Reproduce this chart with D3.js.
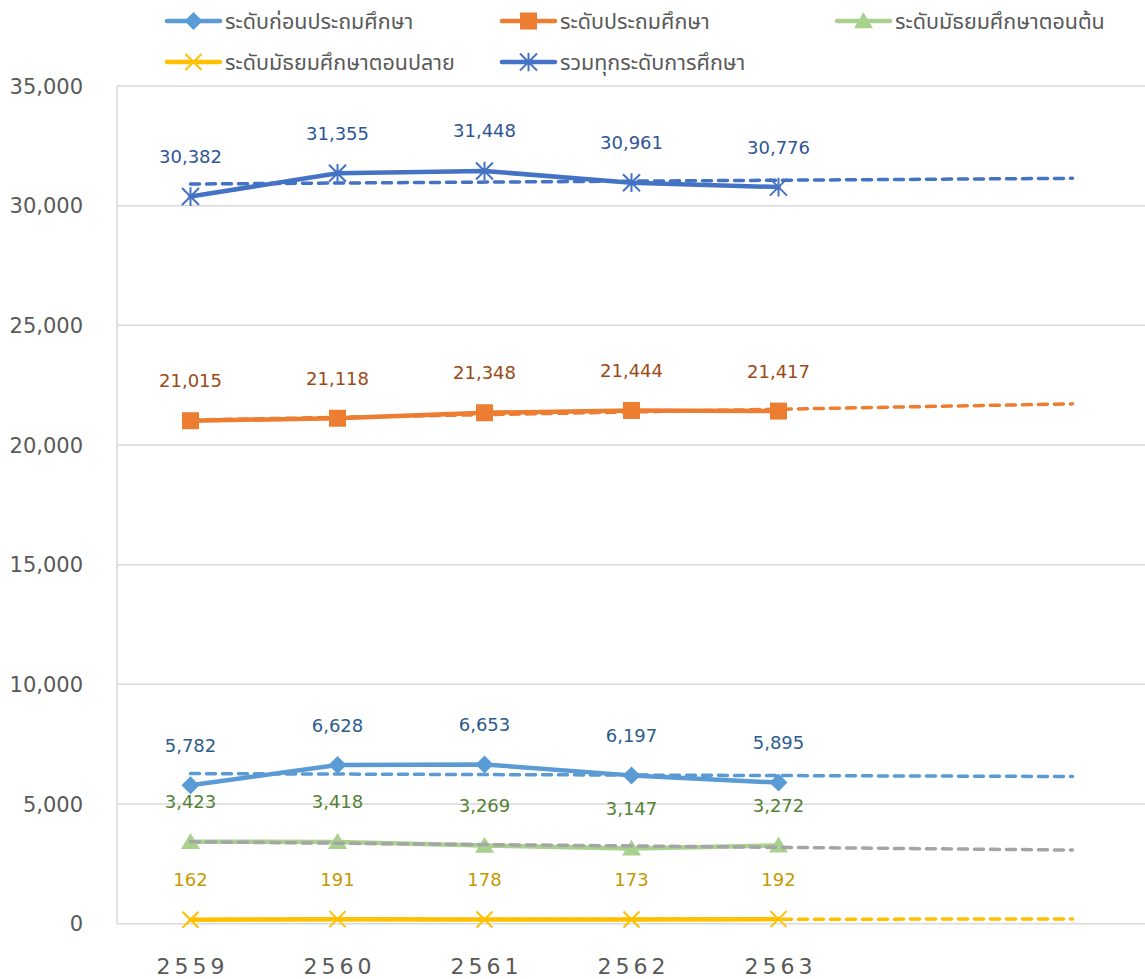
<!DOCTYPE html>
<html><head><meta charset="utf-8">
<script src="https://cdn.jsdelivr.net/npm/d3@7"></script>
<style>
html,body{margin:0;padding:0;background:#fff;}
svg{display:block;}
</style></head>
<body>
<svg id="chart" width="1145" height="979"></svg>
<script>
// ---- data ----
const years = ["2559", "2560", "2561", "2562", "2563"];
const extraPeriods = 2; // trendline forecast forward
const preschool = [5782, 6628, 6653, 6197, 5895];
const primary = [21015, 21118, 21348, 21444, 21417];
const lowerSecondary = [3423, 3418, 3269, 3147, 3272];
const upperSecondary = [162, 191, 178, 173, 192];
const total = [30382, 31355, 31448, 30961, 30776];
const seriesNames = ["ระดับก่อนประถมศึกษา", "ระดับประถมศึกษา", "ระดับมัธยมศึกษาตอนต้น", "ระดับมัธยมศึกษาตอนปลาย", "รวมทุกระดับการศึกษา"];
const yTicks = [0, 5000, 10000, 15000, 20000, 25000, 30000, 35000];

// ---- styling ----
const series = [
  {name: seriesNames[0], values: preschool, color: "#5B9BD5", labelColor: "#2B5C8C", trend: "#5B9BD5", marker: "diamond"},
  {name: seriesNames[1], values: primary, color: "#ED7D31", labelColor: "#9A4A17", trend: "#ED7D31", marker: "square"},
  {name: seriesNames[2], values: lowerSecondary, color: "#A9D18E", labelColor: "#548235", trend: "#A5A5A5", marker: "triangle"},
  {name: seriesNames[3], values: upperSecondary, color: "#FFC000", labelColor: "#C49A00", trend: "#FFC000", marker: "x"},
  {name: seriesNames[4], values: total, color: "#4472C4", labelColor: "#2F5597", trend: "#4472C4", marker: "asterisk"}
];

const svg = d3.select("#chart");
const pLeft = 117, pRight = 1146, pTop = 86, pBottom = 923.7;
const nCat = years.length + extraPeriods;
const x = d3.scaleLinear().domain([0.5, nCat + 0.5]).range([pLeft, pRight]);
const y = d3.scaleLinear().domain([0, 35000]).range([pBottom, pTop]);
const numFont = "'DejaVu Sans', sans-serif";
const thaiFont = "'Noto Sans Thai', 'Noto Sans', 'DejaVu Sans', sans-serif";
const fmt = d3.format(",");

// gridlines
svg.append("g").selectAll("line").data(yTicks).join("line")
  .attr("x1", pLeft).attr("x2", pRight)
  .attr("y1", d => y(d)).attr("y2", d => y(d))
  .attr("stroke", "#D9D9D9").attr("stroke-width", 1.5);
// left axis line
svg.append("line").attr("x1", pLeft).attr("x2", pLeft).attr("y1", pTop).attr("y2", pBottom)
  .attr("stroke", "#D9D9D9").attr("stroke-width", 1.5);

// y labels
svg.append("g").selectAll("text").data(yTicks).join("text")
  .attr("x", 83).attr("y", d => y(d)).attr("dy", "0.36em")
  .attr("text-anchor", "end").attr("fill", "#595959")
  .attr("font-family", numFont).attr("font-size", 21)
  .text(d => fmt(d));

// x labels
svg.append("g").selectAll("text").data(years).join("text")
  .attr("x", (d, i) => x(i + 1) + 2).attr("y", 974)
  .attr("text-anchor", "middle").attr("fill", "#595959")
  .attr("font-family", numFont).attr("font-size", 22).attr("letter-spacing", "4px")
  .text(d => d);

// marker drawing
function drawMarker(g, type, cx, cy, color) {
  if (type === "diamond") {
    const r = 9;
    g.append("path").attr("d", `M${cx},${cy - r}L${cx + r},${cy}L${cx},${cy + r}L${cx - r},${cy}Z`).attr("fill", color);
  } else if (type === "square") {
    const s = 8.5;
    g.append("rect").attr("x", cx - s).attr("y", cy - s).attr("width", 2 * s).attr("height", 2 * s).attr("fill", color);
  } else if (type === "triangle") {
    const w = 9.5, h = 16;
    g.append("path").attr("d", `M${cx},${cy - h * 0.55}L${cx + w},${cy + h * 0.45}L${cx - w},${cy + h * 0.45}Z`).attr("fill", color);
  } else if (type === "x") {
    const r = 8;
    g.append("path").attr("d", `M${cx - r},${cy - r}L${cx + r},${cy + r}M${cx - r},${cy + r}L${cx + r},${cy - r}`)
      .attr("stroke", color).attr("stroke-width", 2);
  } else if (type === "asterisk") {
    const r = 8.5;
    g.append("path").attr("d", `M${cx - r},${cy - r}L${cx + r},${cy + r}M${cx - r},${cy + r}L${cx + r},${cy - r}M${cx},${cy - r * 1.1}L${cx},${cy + r * 1.1}`)
      .attr("stroke", color).attr("stroke-width", 2);
  }
}

// linear regression trend
function trend(vals) {
  const n = vals.length;
  const xs = vals.map((v, i) => i + 1);
  const mx = d3.mean(xs), my = d3.mean(vals);
  const num = d3.sum(xs, (xi, i) => (xi - mx) * (vals[i] - my));
  const den = d3.sum(xs, xi => (xi - mx) * (xi - mx));
  const b = num / den, a = my - b * mx;
  return [[1, a + b], [n + extraPeriods, a + b * (n + extraPeriods)]];
}

const line = d3.line().x(d => x(d[0])).y(d => y(d[1]));
const plot = svg.append("g");

// series lines
series.forEach(s => {
  plot.append("path").datum(s.values.map((v, i) => [i + 1, v]))
    .attr("d", line).attr("fill", "none").attr("stroke", s.color)
    .attr("stroke-width", 4.5).attr("stroke-linejoin", "round").attr("stroke-linecap", "round");
});
// markers
series.forEach(s => {
  const g = plot.append("g");
  s.values.forEach((v, i) => drawMarker(g, s.marker, x(i + 1), y(v), s.color));
});
// trendlines
series.forEach(s => {
  plot.append("path").datum(trend(s.values))
    .attr("d", line).attr("fill", "none").attr("stroke", s.trend)
    .attr("stroke-width", 3.5).attr("stroke-dasharray", "9,7").attr("stroke-linecap", "round");
});
// data labels
series.forEach(s => {
  plot.append("g").selectAll("text").data(s.values).join("text")
    .attr("x", (d, i) => x(i + 1)).attr("y", d => y(d) - 40).attr("dy", "0.36em")
    .attr("text-anchor", "middle").attr("fill", s.labelColor)
    .attr("font-family", numFont).attr("font-size", 18)
    .text(d => fmt(d));
});

// legend
const legendPos = [[167, 21], [502, 21], [837, 21], [167, 62], [502, 62]];
series.forEach((s, i) => {
  const [lx, ly] = legendPos[i];
  const g = svg.append("g");
  g.append("line").attr("x1", lx).attr("x2", lx + 53).attr("y1", ly).attr("y2", ly)
    .attr("stroke", s.color).attr("stroke-width", 4.5).attr("stroke-linecap", "round");
  drawMarker(g, s.marker, lx + 26.5, ly, s.color);
  g.append("text").attr("x", lx + 58).attr("y", ly).attr("dy", "0.36em")
    .attr("fill", "#595959").attr("font-family", thaiFont).attr("font-size", 21.5)
    .text(s.name);
});
</script>
</body></html>
